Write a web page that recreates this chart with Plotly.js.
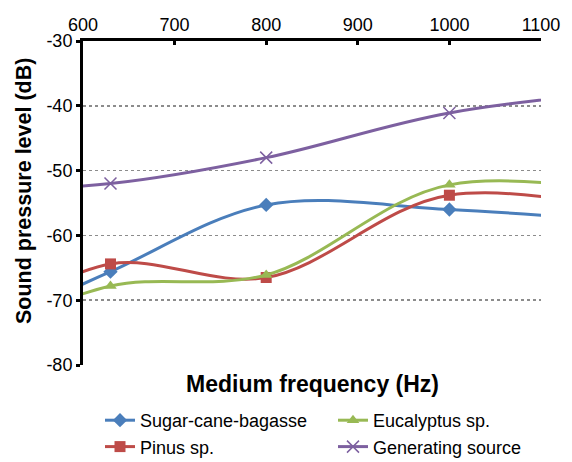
<!DOCTYPE html>
<html><head><meta charset="utf-8">
<script src="https://cdn.plot.ly/plotly-3.0.1.min.js"></script>
<style>html,body{margin:0;padding:0;background:#fff}#chart{width:572px;height:462px}</style>
</head><body><div id="chart"></div>
<script>
// frequencies (Hz) - 500 and 1250 lie outside the shown range
var freq = [500, 630, 800, 1000, 1250];
var sugarCane = [-74, -65.6, -55.3, -56.0, -58.5];
var pinus = [-73, -64.4, -66.5, -53.8, -58];
var eucalyptus = [-75, -67.8, -66.1, -52.2, -55];
var generating = [-53, -52.0, -48.0, -41.1, -37];
var names = ["Sugar-cane-bagasse", "Pinus sp.", "Eucalyptus sp.", "Generating source"];
var colors = ["#4A7EBB", "#BE4B48", "#98B954", "#7D60A0"];
var symbols = ["diamond", "square", "triangle-up", "x-thin-open"];
var legendIds = ["legend", "legend", "legend2", "legend2"];
var series = [sugarCane, pinus, eucalyptus, generating];
var yTicks = [-80, -70, -60, -50, -40, -30];
var xTicks = [600, 700, 800, 900, 1000, 1100];

var traces = series.map(function(s, i){
  return {
    x: freq, y: s, name: names[i], type: 'scatter', mode: 'lines+markers',
    line: {color: colors[i], width: 3, shape: 'spline', smoothing: 1},
    marker: {symbol: symbols[i], size: symbols[i]==='x-thin-open'?12:11, color: colors[i],
             line: {color: colors[i], width: symbols[i]==='x-thin-open'?1.5:0}},
    legend: legendIds[i]
  };
});

var font = "Liberation Sans, Arial, sans-serif";
var W = 572, H = 462, L = 83, R = 31, T = 41, B = 97;
var pw = W - L - R, ph = H - T - B;
function px2x(p){ return (p - L) / pw; }
function py2y(p){ return (H - B - p) / ph; }
var legFont = {family: font, size: 18, color: '#000'};
var layout = {
  width: W, height: H,
  margin: {l: L, r: R, t: T, b: B, autoexpand: false},
  paper_bgcolor: '#fff', plot_bgcolor: '#fff',
  font: {family: font, size: 18, color: '#000'},
  showlegend: true,
  legend: {orientation: 'v', x: px2x(100), xanchor: 'left', y: py2y(402), yanchor: 'top',
           font: legFont, itemwidth: 30, bgcolor: 'rgba(0,0,0,0)'},
  legend2: {orientation: 'v', x: px2x(333), xanchor: 'left', y: py2y(402), yanchor: 'top',
           font: legFont, itemwidth: 30, bgcolor: 'rgba(0,0,0,0)'},
  xaxis: {side: 'top', range: [600, 1100], tickvals: xTicks, ticktext: xTicks.map(String),
          showline: true, linecolor: '#000', linewidth: 3, ticks: 'inside', ticklen: 4,
          tickwidth: 3, tickcolor: '#000', showgrid: false, zeroline: false,
          tickfont: {family: font, size: 18}},
  yaxis: {range: [-80, -30], tickvals: yTicks, ticktext: yTicks.map(String),
          showline: true, linecolor: '#000', linewidth: 3, ticks: 'outside', ticklen: 4,
          tickwidth: 3, tickcolor: '#000', showgrid: true, gridcolor: '#8c8c8c',
          griddash: 'dot', gridwidth: 1.5, zeroline: false,
          tickfont: {family: font, size: 18}},
  annotations: [
    {text: '<b>Medium frequency (Hz)</b>', xref: 'paper', yref: 'paper',
     x: 0.5, y: py2y(369), xanchor: 'center', yanchor: 'top', showarrow: false,
     font: {family: font, size: 23, color: '#000'}},
    {text: '<b>Sound pressure level (dB)</b>', xref: 'paper', yref: 'paper', textangle: -90,
     x: px2x(24), y: py2y(191), showarrow: false, xanchor: 'center', yanchor: 'middle',
     font: {family: font, size: 21.5, color: '#000'}}
  ]
};
Plotly.newPlot('chart', traces, layout, {displayModeBar: false, staticPlot: true});
</script></body></html>
